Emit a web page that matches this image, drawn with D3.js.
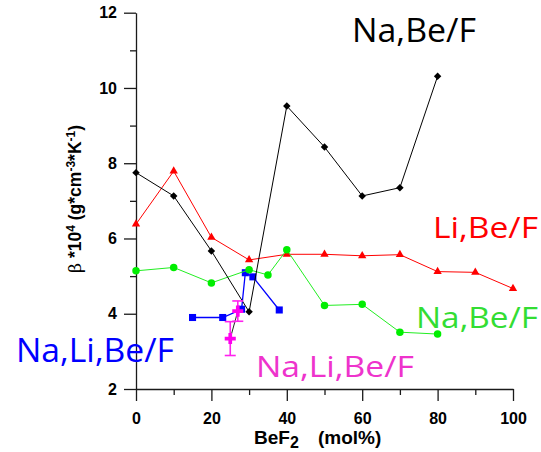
<!DOCTYPE html>
<html>
<head>
<meta charset="utf-8">
<script src="https://cdn.jsdelivr.net/npm/d3@7"></script>
<style>
  html, body { margin: 0; padding: 0; background: #fff; }
  svg { display: block; }
</style>
</head>
<body>
<svg id="chart" width="541" height="452"></svg>
<script>
// Thermal expansion coefficient of fluoride melts vs. BeF2 content
const xMajorTicks = [0, 20, 40, 60, 80, 100];
const xMinorTicks = [10, 30, 50, 70, 90];
const yMajorTicks = [2, 4, 6, 8, 10, 12];
const yMinorTicks = [3, 5, 7, 9, 11];

// Na,Be/F (black diamonds)
const naBeBlackX = [0, 10, 20, 30, 40, 50, 60, 70, 80];
const naBeBlackY = [7.75, 7.13, 5.67, 4.05, 9.52, 8.43, 7.13, 7.35, 10.31];

// Li,Be/F (red triangles)
const liBeX = [0, 10, 20, 30, 40, 50, 60, 70, 80, 90, 100];
const liBeY = [6.38, 7.79, 6.03, 5.43, 5.58, 5.58, 5.54, 5.57, 5.12, 5.10, 4.67];

// Na,Be/F (green circles)
const naBeGreenX = [0, 10, 20, 30, 35, 40, 50, 60, 70, 80];
const naBeGreenY = [5.14, 5.23, 4.82, 5.17, 5.03, 5.70, 4.22, 4.25, 3.51, 3.46];

// Na,Li,Be/F (blue squares)
const naLiBeBlueX = [15, 23, 28, 29, 31, 38];
const naLiBeBlueY = [3.90, 3.90, 4.12, 5.09, 4.98, 4.10];

// Na,Li,Be/F (magenta crosses with error bars)
const naLiBeMagX = [25, 27];
const naLiBeMagY = [3.34, 4.07];
const naLiBeMagErr = [0.45, 0.27];

const svg = d3.select("#chart");
const x = d3.scaleLinear().domain([0, 100]).range([136, 513]);
const y = d3.scaleLinear().domain([2, 12]).range([389, 12.7]);

const tickFont = "'Liberation Sans', Arial, sans-serif";
const labelFont = "'Comic Sans MS', 'Open Sans', 'DejaVu Sans', sans-serif";

// Axes: major ticks with labels, minor ticks without
function styleAxis(g) {
  g.selectAll("path, line").attr("stroke", "#1a1a1a").attr("stroke-width", 1.3);
  g.selectAll("text").attr("fill", "#000").attr("font-family", tickFont)
    .attr("font-weight", "bold").attr("font-size", 16);
}

svg.append("g").attr("transform", "translate(0,389)")
  .call(d3.axisBottom(x).tickValues(xMinorTicks).tickSize(6).tickFormat(""))
  .call(g => g.select(".domain").remove())
  .call(styleAxis);
svg.append("g").attr("transform", "translate(0,389)")
  .call(d3.axisBottom(x).tickValues(xMajorTicks).tickSize(12).tickPadding(12).tickSizeOuter(0))
  .call(styleAxis);

svg.append("g").attr("transform", "translate(136,0)")
  .call(d3.axisLeft(y).tickValues(yMinorTicks).tickSize(6).tickFormat(""))
  .call(g => g.select(".domain").remove())
  .call(styleAxis);
svg.append("g").attr("transform", "translate(136,0)")
  .call(d3.axisLeft(y).tickValues(yMajorTicks).tickSize(12).tickPadding(7).tickSizeOuter(0))
  .call(styleAxis);

// Axis titles
const xt = svg.append("text").attr("y", 444).attr("font-family", tickFont)
  .attr("font-weight", "bold").attr("font-size", 19).attr("fill", "#000");
xt.append("tspan").attr("x", 254).text("BeF");
xt.append("tspan").attr("dy", 4).attr("font-size", 16).text("2");
xt.append("tspan").attr("x", 318).attr("dy", -4).text("(mol%)");

const yt = svg.append("text").attr("transform", "translate(81,199) rotate(-90)")
  .attr("text-anchor", "middle").attr("font-family", tickFont)
  .attr("font-weight", "bold").attr("font-size", 17.5).attr("fill", "#000");
yt.append("tspan").attr("font-weight", "normal").attr("font-family", "'DejaVu Serif', serif").text("β");
yt.append("tspan").text(" *10");
yt.append("tspan").attr("dy", -6).attr("font-size", 12).text("4");
yt.append("tspan").attr("dy", 6).text(" (g*cm");
yt.append("tspan").attr("dy", -6).attr("font-size", 12).text("-3");
yt.append("tspan").attr("dy", 6).text("*K");
yt.append("tspan").attr("dy", -6).attr("font-size", 12).text("-1");
yt.append("tspan").attr("dy", 6).text(")");

// Diamond drawn as a square turned 45 degrees
const squareDiamond = {
  draw(context, size) {
    const r = Math.sqrt(size / 2);
    context.moveTo(0, -r);
    context.lineTo(r, 0);
    context.lineTo(0, r);
    context.lineTo(-r, 0);
    context.closePath();
  }
};

const line = d3.line().x(d => x(d[0])).y(d => y(d[1]));

function drawSeries(xs, ys, opts) {
  const pts = xs.map((v, i) => [v, ys[i]]);
  const g = svg.append("g");
  g.append("path").datum(pts).attr("d", line).attr("fill", "none")
    .attr("stroke", opts.lineColor).attr("stroke-width", opts.lineWidth || 1);
  g.selectAll("path.mk").data(pts).join("path").attr("class", "mk")
    .attr("transform", d => `translate(${x(d[0])},${y(d[1])})`)
    .attr("d", d3.symbol().type(opts.symbol).size(opts.size))
    .attr("fill", opts.markColor);
  return g;
}

drawSeries(naLiBeBlueX, naLiBeBlueY, { lineColor: "#0000ff", lineWidth: 1.3, markColor: "#0000ff", symbol: d3.symbolSquare, size: 50 });
drawSeries(liBeX, liBeY, { lineColor: "#ff0000", lineWidth: 1, markColor: "#ff0000", symbol: d3.symbolTriangle, size: 30 });
drawSeries(naBeGreenX, naBeGreenY, { lineColor: "#22ee22", lineWidth: 1, markColor: "#00ee00", symbol: d3.symbolCircle, size: 44 });
drawSeries(naBeBlackX, naBeBlackY, { lineColor: "#000", lineWidth: 1, markColor: "#000", symbol: squareDiamond, size: 28 });

// Magenta points: connecting line, error bars, cross markers
const magPts = naLiBeMagX.map((v, i) => ({ x: v, y: naLiBeMagY[i], e: naLiBeMagErr[i] }));
const mg = svg.append("g");
mg.append("path").datum(magPts.map(d => [d.x, d.y])).attr("d", line)
  .attr("fill", "none").attr("stroke", "#222").attr("stroke-width", 1);
const eb = mg.selectAll("g.eb").data(magPts).join("g").attr("class", "eb")
  .attr("stroke", "#ff22ee").attr("stroke-width", 1.6);
eb.append("line").attr("x1", d => x(d.x)).attr("x2", d => x(d.x))
  .attr("y1", d => y(d.y - d.e)).attr("y2", d => y(d.y + d.e));
eb.append("line").attr("x1", d => x(d.x) - 5.5).attr("x2", d => x(d.x) + 5.5)
  .attr("y1", d => y(d.y - d.e)).attr("y2", d => y(d.y - d.e));
eb.append("line").attr("x1", d => x(d.x) - 5.5).attr("x2", d => x(d.x) + 5.5)
  .attr("y1", d => y(d.y + d.e)).attr("y2", d => y(d.y + d.e));
mg.selectAll("path.mk").data(magPts).join("path").attr("class", "mk")
  .attr("transform", d => `translate(${x(d.x)},${y(d.y)})`)
  .attr("d", d3.symbol().type(d3.symbolCross).size(68))
  .attr("fill", "#ff00ee");

// Series labels
const seriesLabels = [
  { text: "Na,Be/F", x: 352, y: 42, size: 33, len: 124, color: "#000000" },
  { text: "Li,Be/F", x: 433, y: 238, size: 30, len: 105, color: "#ff0000" },
  { text: "Na,Be/F", x: 416, y: 328, size: 30, len: 122, color: "#33dd33" },
  { text: "Na,Li,Be/F", x: 16, y: 362, size: 32, len: 158, color: "#0000ff" },
  { text: "Na,Li,Be/F", x: 256, y: 377, size: 30, len: 158, color: "#ee33cc" }
];
svg.append("g").selectAll("text").data(seriesLabels).join("text")
  .attr("x", d => d.x).attr("y", d => d.y)
  .attr("font-family", labelFont).attr("font-size", d => d.size)
  .attr("fill", d => d.color)
  .attr("textLength", d => d.len).attr("lengthAdjust", "spacingAndGlyphs")
  .text(d => d.text);
</script>
</body>
</html>
